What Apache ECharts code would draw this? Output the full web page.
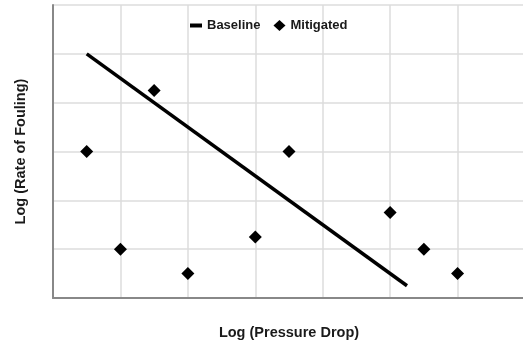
<!DOCTYPE html>
<html>
<head>
<meta charset="utf-8">
<script src="https://cdn.jsdelivr.net/npm/echarts@6/dist/echarts.min.js"></script>
<style>
html,body{margin:0;padding:0;background:#fff;}
#chart{width:523px;height:342px;}
</style>
</head>
<body>
<div id="chart"></div>
<script>
// baseline trend line (two end points)
var baselineX = [0.5, 5.25];
var baselineY = [5, 0.25];
// mitigated measurements
var mitigatedX = [0.5, 1, 1.5, 2, 3, 3.5, 5, 5.5, 6];
var mitigatedY = [3, 1, 4.25, 0.5, 1.25, 3, 1.75, 1, 0.5];

function pairs(xs, ys){
	var out = [];
	for (var i = 0; i < xs.length; i++) out.push([xs[i], ys[i]]);
	return out;
}

var myChart = echarts.init(document.getElementById('chart'));
var option = {
	animation: false,
	textStyle: { fontFamily: 'Liberation Sans, Arial, sans-serif' },
	legend: {
		top: 14,
		left: 185,
		itemGap: 13,
		itemWidth: 12,
		itemHeight: 11,
		lineStyle: { width: 4 },
		textStyle: { fontSize: 13, fontWeight: 'bold', color: '#1a1a1a' },
		data: [{ name: 'Baseline', icon: 'path://M0,0H12V4H0Z' }, 'Mitigated']
	},
	grid: { left: 53, right: -2, top: 5, bottom: 44, outerBoundsMode: 'none' },
	xAxis: {
		type: 'value',
		min: 0, max: 7, interval: 1,
		name: 'Log (Pressure Drop)',
		nameLocation: 'middle',
		nameGap: 27,
		nameTextStyle: { fontSize: 14.5, fontWeight: 'bold', color: '#1a1a1a' },
		axisLine: { lineStyle: { color: '#888', width: 2 } },
		axisTick: { show: false },
		axisLabel: { show: false },
		splitLine: { lineStyle: { color: '#ddd', width: 1.5 } }
	},
	yAxis: {
		type: 'value',
		min: 0, max: 6, interval: 1,
		name: 'Log (Rate of Fouling)',
		nameLocation: 'middle',
		nameGap: 25,
		nameTextStyle: { fontSize: 14.5, fontWeight: 'bold', color: '#1a1a1a' },
		axisLine: { show: true, lineStyle: { color: '#888', width: 2 } },
		axisTick: { show: false },
		axisLabel: { show: false },
		splitLine: { lineStyle: { color: '#ddd', width: 1.5 } }
	},
	series: [
		{
			name: 'Baseline',
			type: 'line',
			data: pairs(baselineX, baselineY),
			symbol: 'none',
			itemStyle: { color: '#000' },
			lineStyle: { color: '#000', width: 3.5 }
		},
		{
			name: 'Mitigated',
			type: 'scatter',
			data: pairs(mitigatedX, mitigatedY),
			symbol: 'diamond',
			symbolSize: 13,
			itemStyle: { color: '#000', opacity: 1 }
		}
	]
};
myChart.setOption(option);
</script>
</body>
</html>
